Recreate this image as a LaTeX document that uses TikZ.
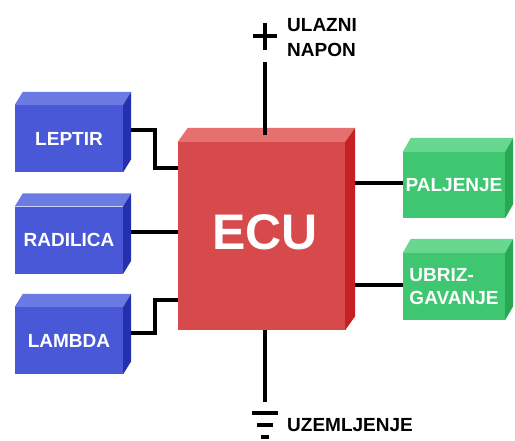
\documentclass[tikz,border=0pt]{standalone}
\usepackage{fontspec}
\setmainfont{Liberation Sans}
\usetikzlibrary{calc}
\definecolor{bfront}{RGB}{72,88,214}
\definecolor{btop}{RGB}{108,122,228}
\definecolor{bside}{RGB}{36,48,172}
\definecolor{rfront}{RGB}{214,74,76}
\definecolor{rtop}{RGB}{230,112,112}
\definecolor{rside}{RGB}{198,32,36}
\definecolor{gfront}{RGB}{62,198,112}
\definecolor{gtop}{RGB}{104,216,144}
\definecolor{gside}{RGB}{40,168,82}
\newcommand\cubefaces[5]{%
  \fill[#4] (#1.north west) -- ++(#2,-#3) -- ($(#1.north east)+(#2,-#3)$) -- (#1.north east) -- cycle;
  \fill[#5] (#1.north east) -- ++(#2,-#3) -- ($(#1.south east)+(#2,-#3)$) -- (#1.south east) -- cycle;
}
\tikzset{
  x=1pt, y=-1pt,
  cube/.style={inner sep=0pt, text=white, font=\bfseries\fontsize{19}{23}\selectfont, align=center},
  bluebox/.style={cube, fill=bfront, minimum width=108pt, minimum height=67pt},
  greenbox/.style={cube, fill=gfront, minimum width=102pt, minimum height=66pt},
  ecubox/.style={cube, fill=rfront, minimum width=167pt, minimum height=188pt},
  wire/.style={line width=3.5pt, black},
  lbl/.style={anchor=west, inner sep=0pt, font=\bfseries\fontsize{19}{25}\selectfont, align=left}
}
\begin{document}
\begin{tikzpicture}
\useasboundingbox (0,0) rectangle (515,440);
% nodes
\node[bluebox] (lep) at (69,138.5) {LEPTIR};
\node[bluebox] (rad) at (69,240) {RADILICA};
\node[bluebox] (lam) at (69,340.5) {LAMBDA};
\node[greenbox] (pal) at (454,185) {PALJENJE};
\node[greenbox, minimum height=67pt, align=left] (ubr) at (454,286.5) {UBRIZ-\\GAVANJE};
\node[ecubox] (ecu) at (261.5,236) {};
% connectors (under boxes)
\coordinate (l1) at (155,130);
\coordinate (l2) at (155,168);
\coordinate (m1) at (155,333);
\coordinate (m2) at (155,300);
\draw[wire] (lep.east |- l1) -- (l1) -- (l2) -- (ecu.west |- l2);
\draw[wire] (rad.east |- 0,232) -- (ecu.west |- 0,232);
\draw[wire] (lam.east |- m1) -- (m1) -- (m2) -- (ecu.west |- m2);
\draw[wire] (ecu.east |- 0,183) -- (pal.west |- 0,183);
\draw[wire] (ecu.east |- 0,285) -- (ubr.west |- 0,285);
% 3D faces
\cubefaces{lep}{8}{13}{btop}{bside}
\cubefaces{rad}{8}{13}{btop}{bside}
\cubefaces{lam}{8}{13}{btop}{bside}
\cubefaces{pal}{8}{14}{gtop}{gside}
\cubefaces{ubr}{8}{14}{gtop}{gside}
\cubefaces{ecu}{10}{14}{rtop}{rside}
\node[text=white, font=\bfseries\fontsize{50}{52}\selectfont, inner sep=0pt] (ecut) at (265,232) {ECU};
% power
\coordinate (vtop) at (265,62);
\coordinate (vin) at (265,135);
\draw[wire] (vtop) -- (vin);
\coordinate (plus) at (265,36);
\draw[wire] ($(plus)+(-12,0)$) -- ($(plus)+(12,0)$);
\draw[wire] ($(plus)+(0,-13)$) -- ($(plus)+(0,14)$);
\node[lbl] (ulazni) at (287,38) {ULAZNI\\NAPON};
% ground
\coordinate (gnd) at (265,402);
\draw[wire] (ecu.south -| gnd) -- (gnd);
\draw[wire] (252,413) -- (278,413);
\draw[wire] (257,425) -- (273,425);
\draw[wire] (261,437) -- (269,437);
\node[lbl] (uzem) at (287,425) {UZEMLJENJE};
\end{tikzpicture}
\end{document}
